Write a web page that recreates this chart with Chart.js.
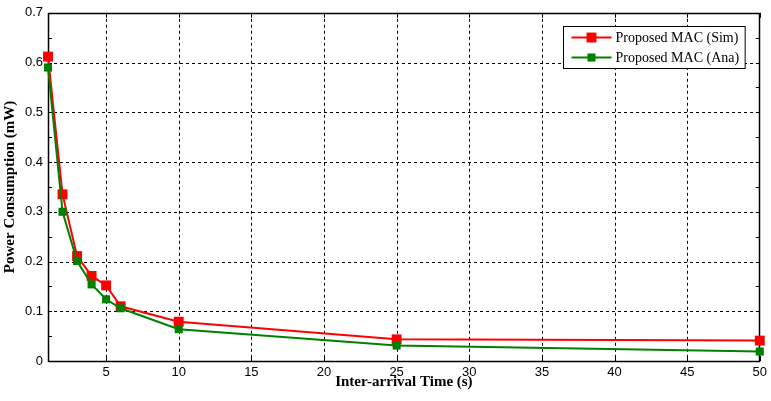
<!DOCTYPE html>
<html>
<head>
<meta charset="utf-8">
<script src="https://cdn.jsdelivr.net/npm/chart.js@4.4.0/dist/chart.umd.min.js"></script>
<style>
    html, body { margin: 0; padding: 0; background: #fff; }
    #wrap { width: 771px; height: 401px; }
</style>
</head>
<body>
<div id="wrap"><canvas id="myChart" width="771" height="401"></canvas></div>
<script>
// inter-arrival time (s) and power consumption (mW)
const interArrival = [1, 2, 3, 4, 5, 6, 10, 25, 50];
const simPower = [0.612, 0.335, 0.211, 0.171, 0.152, 0.110, 0.079, 0.0435, 0.041];
const anaPower = [0.590, 0.300, 0.201, 0.154, 0.124, 0.106, 0.064, 0.031, 0.019];
const seriesLabels = ['Proposed MAC (Sim)', 'Proposed MAC (Ana)'];
const xTicks = [5, 10, 15, 20, 25, 30, 35, 40, 45, 50];
const yTicks = [0, 0.1, 0.2, 0.3, 0.4, 0.5, 0.6, 0.7];

function points(ys) {
    return interArrival.map(function (x, i) { return { x: x, y: ys[i] }; });
}

// dashed grid, solid box and small inward tick marks
const framePlugin = {
    id: 'frame',
    beforeDatasetsDraw: function (chart) {
        const ctx = chart.ctx;
        const a = chart.chartArea;
        const xs = chart.scales.x;
        const ys = chart.scales.y;
        ctx.save();
        ctx.strokeStyle = '#000';
        ctx.lineWidth = 1;
        ctx.setLineDash([3, 3]);
        ctx.beginPath();
        xTicks.forEach(function (v) {
            const px = Math.round(xs.getPixelForValue(v)) + 0.5;
            if (px < a.right - 1) { ctx.moveTo(px, a.top); ctx.lineTo(px, a.bottom); }
        });
        yTicks.forEach(function (v) {
            const py = Math.round(ys.getPixelForValue(v)) + 0.5;
            if (py > a.top + 1 && py < a.bottom - 1) { ctx.moveTo(a.left, py); ctx.lineTo(a.right, py); }
        });
        ctx.stroke();
        ctx.setLineDash([]);

        ctx.beginPath();
        xTicks.forEach(function (v) {
            const px = Math.round(xs.getPixelForValue(v)) + 0.5;
            ctx.moveTo(px, a.bottom); ctx.lineTo(px, a.bottom - 5);
            ctx.moveTo(px, a.top); ctx.lineTo(px, a.top + 5);
        });
        for (let k = 0; k <= 14; k++) {
            const py = Math.round(ys.getPixelForValue(k * 0.05)) + 0.5;
            ctx.moveTo(a.left, py); ctx.lineTo(a.left + 4, py);
            ctx.moveTo(a.right, py); ctx.lineTo(a.right - 4, py);
        }
        ctx.stroke();

        ctx.lineWidth = 1.5;
        ctx.strokeRect(Math.round(a.left) + 0.5, Math.round(a.top) + 0.5,
            Math.round(a.right - a.left) - 1, Math.round(a.bottom - a.top));
        ctx.restore();
    },
    afterDatasetsDraw: function (chart) {
        // legend box with line + marker samples
        const ctx = chart.ctx;
        const a = chart.chartArea;
        const sets = chart.data.datasets;
        ctx.save();
        ctx.font = '14px "Liberation Serif", "Times New Roman", serif';
        let tw = 0;
        sets.forEach(function (d) { tw = Math.max(tw, ctx.measureText(d.label).width); });
        const rowH = 20;
        const boxW = 8 + 40 + 4 + tw + 6;
        const boxH = rowH * sets.length + 2;
        const bx = Math.round(a.right - 15 - boxW) + 0.5;
        const by = Math.round(a.top + 13) + 0.5;
        ctx.fillStyle = '#fff';
        ctx.fillRect(bx, by, boxW, boxH);
        ctx.strokeStyle = '#000';
        ctx.lineWidth = 1;
        ctx.strokeRect(bx, by, boxW, boxH);
        sets.forEach(function (d, i) {
            const cy = by + 11 + i * rowH;
            const lx = bx + 8;
            ctx.strokeStyle = d.borderColor;
            ctx.lineWidth = d.borderWidth;
            ctx.beginPath();
            ctx.moveTo(lx, cy); ctx.lineTo(lx + 40, cy);
            ctx.stroke();
            const s = d.pointRadius * Math.SQRT1_2;
            ctx.fillStyle = d.pointBackgroundColor;
            ctx.fillRect(lx + 20 - s, cy - s, 2 * s, 2 * s);
            ctx.fillStyle = '#000';
            ctx.textBaseline = 'middle';
            ctx.textAlign = 'left';
            ctx.fillText(d.label, lx + 44, cy + 1);
        });
        ctx.restore();
    }
};

const ctx = document.getElementById('myChart').getContext('2d');

new Chart(ctx, {
    type: 'line',
    data: {
        datasets: [
            {
                label: seriesLabels[0],
                data: points(simPower),
                borderColor: '#ff0000',
                backgroundColor: '#ff0000',
                pointBackgroundColor: '#ff0000',
                borderWidth: 2,
                pointStyle: 'rect',
                pointRadius: 7,
                pointBorderWidth: 0,
                tension: 0,
                clip: false,
                order: 2
            },
            {
                label: seriesLabels[1],
                data: points(anaPower),
                borderColor: '#008000',
                backgroundColor: '#008000',
                pointBackgroundColor: '#008000',
                borderWidth: 2,
                pointStyle: 'rect',
                pointRadius: 5.7,
                pointBorderWidth: 0,
                tension: 0,
                clip: false,
                order: 1
            }
        ]
    },
    options: {
        responsive: false,
        animation: false,
        events: [],
        layout: { padding: { top: 12, right: 11, left: 0, bottom: 0 } },
        plugins: {
            legend: { display: false },
            tooltip: { enabled: false }
        },
        scales: {
            x: {
                type: 'linear',
                min: 1,
                max: 50,
                grid: { display: false, drawTicks: false },
                border: { display: false },
                afterBuildTicks: function (scale) {
                    scale.ticks = xTicks.map(function (v) { return { value: v }; });
                },
                afterFit: function (scale) { scale.height = 40; },
                ticks: {
                    color: '#000',
                    padding: 4,
                    maxRotation: 0,
                    autoSkip: false,
                    font: { family: '"Liberation Sans", Arial, sans-serif', size: 13 }
                },
                title: {
                    display: true,
                    text: 'Inter-arrival Time (s)',
                    color: '#000',
                    padding: { top: 0, bottom: 10 },
                    font: { family: '"Liberation Serif", "Times New Roman", serif', size: 15, weight: 'bold' }
                }
            },
            y: {
                type: 'linear',
                min: 0,
                max: 0.7,
                grid: { display: false, drawTicks: false },
                border: { display: false },
                afterBuildTicks: function (scale) {
                    scale.ticks = yTicks.map(function (v) { return { value: v }; });
                },
                afterFit: function (scale) { scale.width = 48; },
                ticks: {
                    color: '#000',
                    padding: 5,
                    autoSkip: false,
                    callback: function (v) { return String(Math.round(v * 10) / 10); },
                    font: { family: '"Liberation Sans", Arial, sans-serif', size: 13 }
                },
                title: {
                    display: true,
                    text: 'Power Consumption (mW)',
                    color: '#000',
                    padding: { top: 1, bottom: 0 },
                    font: { family: '"Liberation Serif", "Times New Roman", serif', size: 15, weight: 'bold' }
                }
            }
        }
    },
    plugins: [framePlugin]
});
</script>
</body>
</html>
